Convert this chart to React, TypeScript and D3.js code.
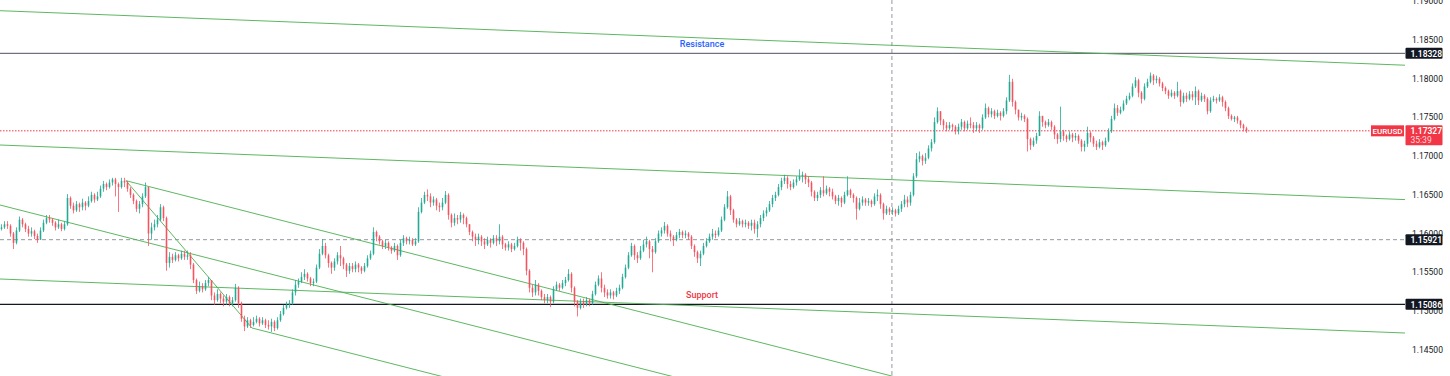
import React from "react";
import * as d3 from "d3";

// Prices stored as pips above BASE (price = BASE + v * PIP); open = previous close
const BASE = 1.15;
const PIP = 0.0001;
const firstOpen = 106;

const closes = [
  108,112,110,100,88,104,118,112,106,100,
  103,97,92,104,114,120,118,114,108,112,
  106,112,146,136,130,138,134,140,136,142,
  150,144,148,158,164,160,166,170,164,160,
  168,166,158,150,142,132,138,148,160,100,
  108,112,118,134,120,62,70,66,72,68,
  74,70,72,60,40,26,32,28,36,40,
  20,14,22,16,12,18,10,14,30,10,
  -10,-20,-12,-18,-14,-10,-16,-12,-18,-20,
  -14,-22,-12,-4,4,8,10,24,34,38,
  44,48,42,36,38,56,74,84,72,62,
  56,64,72,68,60,52,58,54,60,56,
  52,58,68,74,102,96,90,84,88,82,
  78,84,72,88,94,90,92,86,90,128,
  140,150,148,140,144,136,134,140,150,124,
  114,120,118,124,120,112,102,96,92,96,
  90,86,92,88,94,90,96,86,82,86,
  80,84,92,88,80,52,30,24,34,26,
  18,14,18,12,28,34,30,36,40,48,
  30,12,4,12,8,14,10,22,34,42,
  30,24,20,24,20,26,30,44,56,72,
  84,72,68,78,86,90,80,76,90,100,
  104,110,100,96,92,98,102,98,100,96,
  84,76,68,74,84,90,96,100,98,104,
  118,134,148,130,118,112,116,112,114,110,
  114,106,112,120,126,130,138,146,150,160,
  168,172,164,160,166,170,174,176,170,166,
  154,146,150,156,152,158,154,148,142,146,
  140,150,156,150,146,132,140,144,140,142,
  138,148,150,138,126,132,128,130,126,132,
  138,144,140,150,174,196,200,194,198,210,
  218,244,258,246,240,236,240,238,232,238,
  244,236,242,240,236,240,236,250,262,254,
  258,252,256,252,258,272,296,270,260,250,
  252,248,222,214,220,226,252,244,240,244,
  238,228,222,232,226,222,228,224,226,220,
  212,216,230,224,216,212,218,214,220,232,
  248,262,256,260,268,274,278,290,298,282,
  274,290,296,304,298,300,294,288,284,278,
  282,278,284,270,278,274,280,276,284,272,
  278,274,258,272,274,272,276,270,262,252,
  248,250,246,240,236,233,
];

const highs = [
  112,116,116,112,102,108,122,120,114,110,
  108,105,100,108,118,124,124,120,116,118,
  114,116,151,148,140,142,140,145,142,148,
  154,152,154,162,168,166,170,172,172,166,
  172,172,168,160,152,144,142,152,166,160,
  114,118,124,138,136,122,76,74,76,74,
  78,78,78,76,62,42,38,36,40,44,
  40,24,28,24,20,22,20,18,35,32,
  12,-6,-8,-10,-8,-6,-8,-8,-10,-12,
  -10,-12,-8,0,8,12,14,28,40,42,
  50,54,50,44,42,60,80,93,88,74,
  64,68,76,84,70,62,62,62,64,62,
  58,62,72,78,108,104,98,92,92,90,
  84,88,86,92,98,96,96,94,94,134,
  146,154,157,152,148,146,140,146,155,152,
  126,126,124,128,126,122,112,104,100,100,
  98,94,96,94,98,98,112,98,88,90,
  88,88,96,94,90,82,54,34,40,36,
  28,22,22,20,32,38,36,40,44,54,
  50,32,14,16,16,18,16,26,38,46,
  50,34,28,28,26,30,34,48,60,76,
  88,86,76,84,92,96,92,84,94,104,
  108,115,112,104,98,102,106,104,104,102,
  98,86,78,78,88,94,100,106,104,108,
  122,138,155,150,132,120,120,118,118,116,
  118,118,116,124,130,134,142,150,154,164,
  172,176,174,168,170,174,183,180,178,174,
  168,156,154,160,174,162,160,158,150,150,
  148,154,174,158,152,148,146,148,146,146,
  144,152,157,152,140,136,134,134,132,136,
  142,150,148,154,178,204,206,202,204,214,
  222,250,263,258,248,244,244,242,240,242,
  248,246,246,250,244,244,242,254,268,264,
  262,260,260,258,262,276,305,300,272,258,
  256,254,250,224,224,230,258,250,246,248,
  246,240,230,264,234,228,232,230,230,228,
  222,220,238,232,226,220,222,220,224,236,
  252,268,266,264,272,278,282,294,302,300,
  284,294,300,308,306,304,302,296,290,286,
  286,284,296,286,282,282,284,284,290,286,
  282,280,276,276,278,276,280,278,272,264,
  254,252,252,246,242,238,
];

const lows = [
  104,106,106,96,80,86,102,108,102,96,
  96,93,88,92,102,112,114,110,104,106,
  103,104,110,132,126,128,128,130,130,134,
  140,140,142,146,154,156,158,162,148,128,
  158,160,154,146,138,128,126,134,146,84,
  92,104,108,116,116,52,56,62,64,64,
  66,66,66,54,36,22,24,24,26,32,
  14,8,12,10,6,8,6,6,12,4,
  -14,-26,-22,-22,-20,-16,-20,-18,-22,-24,
  -27,-26,-24,-14,-6,2,4,8,20,30,
  36,40,38,32,32,36,54,72,68,56,
  48,52,60,58,54,44,48,50,50,50,
  48,50,56,66,72,90,86,80,80,78,
  74,76,66,70,84,86,86,84,84,88,
  126,138,142,134,136,130,128,130,138,118,
  108,110,112,114,112,108,98,90,84,86,
  84,80,84,82,86,84,86,80,78,78,
  76,78,82,78,72,46,24,18,20,20,
  14,10,10,5,10,26,26,28,32,38,
  24,6,-7,2,4,6,6,8,20,32,
  24,18,16,16,15,18,22,28,42,54,
  70,66,62,66,76,82,68,50,74,88,
  96,100,96,90,84,90,94,94,94,92,
  80,70,62,58,72,82,88,92,94,96,
  102,116,132,124,114,108,110,108,108,106,
  104,100,95,108,116,122,128,134,142,148,
  156,164,158,156,158,162,168,166,164,160,
  148,142,142,146,148,150,148,144,138,136,
  134,138,148,146,140,118,130,136,136,136,
  134,136,142,132,118,124,124,124,122,124,
  128,134,134,136,148,172,192,188,190,196,
  206,216,242,240,234,232,234,232,228,228,
  234,232,234,236,230,232,230,234,248,250,
  250,248,250,246,250,254,270,264,254,246,
  246,244,206,208,212,216,226,238,236,238,
  234,222,216,218,220,218,220,218,220,216,
  206,206,212,218,212,208,210,208,212,218,
  230,246,252,254,258,266,272,276,288,276,
  268,272,288,294,292,294,290,284,280,274,
  276,274,276,264,268,270,272,272,266,266,
  270,270,254,256,270,268,270,264,258,248,
  246,244,242,236,232,230,
];

const priceTicks = [1.145, 1.15, 1.155, 1.16, 1.165, 1.17, 1.175, 1.18, 1.185, 1.19];
const resistance = 1.18328;
const support = 1.15086;
const crosshairPrice = 1.15921;
const crosshairBar = 296.8;
const lastPrice = 1.17327;
const symbol = "EURUSD";
const countdown = "35:39";
const resistanceLabel = "Resistance";
const supportLabel = "Support";
const labelBar = 233.5;

// [bar1, price1, bar2, price2]
const trendLines: number[][] = [
  [-0.5, 1.188786, 467.83, 1.181746],
  [-0.5, 1.171439, 467.83, 1.164387],
  [-0.5, 1.154131, 467.83, 1.147155],
  [-0.5, 1.163689, 226.17, 1.141292],
  [41.5, 1.166828, 299.5, 1.14133],
  [41.5, 1.166828, 83.5, 1.147802],
  [83.5, 1.147802, 149.5, 1.141279],
];

const W = 1450;
const H = 376;
const PLOT_R = 1405;
const UP = "#22ab94";
const DOWN = "#f7525f";
const FONT = "Roboto, 'Liberation Sans', sans-serif";

export default function App() {
  const x = d3.scaleLinear().domain([-0.5, 467.83]).range([0, PLOT_R]);
  const y = d3.scaleLinear().domain([1.145, 1.19]).range([349.7, 1.3]);
  const n = Math.min(closes.length, highs.length, lows.length);

  const candles = d3.range(n).map((i) => {
    const o = BASE + (i === 0 ? firstOpen : closes[i - 1]) * PIP;
    const c = BASE + closes[i] * PIP;
    const h = Math.max(BASE + highs[i] * PIP, o, c);
    const l = Math.min(BASE + lows[i] * PIP, o, c);
    return { i, o, c, h, l };
  });

  const priceBox = (p: number, text: string, color: string) => (
    <g key={text}>
      <rect x={1405.5} y={y(p) - 5.5} width={37} height={11} fill={color} rx={1} />
      <text x={1410.5} y={y(p) + 0.5} fill="#fff" fontSize={8.5} fontWeight={600} dominantBaseline="central" fontFamily={FONT}>
        {text}
      </text>
    </g>
  );

  return (
    <div style={{ position: "absolute", left: 0, top: 0 }}>
      <svg width={W} height={H} style={{ display: "block", background: "#fff" }}>
        <defs>
          <clipPath id="plot">
            <rect x={0} y={0} width={PLOT_R} height={H} />
          </clipPath>
        </defs>

        {/* axis tick labels */}
        {priceTicks.map((p) => (
          <text key={p} x={1412} y={y(p)} fontSize={8.5} fill="#131722" dominantBaseline="central" fontFamily={FONT}>
            {p.toFixed(5)}
          </text>
        ))}

        <g clipPath="url(#plot)">
          {/* crosshair */}
          <line x1={x(crosshairBar)} x2={x(crosshairBar)} y1={0} y2={H} stroke="#9598a1" strokeDasharray="4 3" strokeWidth={1} />
          <line x1={0} x2={PLOT_R} y1={y(crosshairPrice)} y2={y(crosshairPrice)} stroke="#9598a1" strokeDasharray="4 3" strokeWidth={1} />

          {/* resistance / support */}
          <line x1={0} x2={PLOT_R} y1={y(resistance)} y2={y(resistance)} stroke="#50535e" strokeWidth={1} />
          <line x1={0} x2={PLOT_R} y1={y(support)} y2={y(support)} stroke="#131722" strokeWidth={1.3} />

          {/* trend lines */}
          {trendLines.map((t, k) => (
            <line key={k} x1={x(t[0])} y1={y(t[1])} x2={x(t[2])} y2={y(t[3])} stroke="#4caf50" strokeWidth={0.9} />
          ))}

          {/* last price line */}
          <line x1={0} x2={1371} y1={y(lastPrice)} y2={y(lastPrice)} stroke="#f23645" strokeDasharray="1.5 1.5" strokeWidth={1} />

          {/* candles */}
          {candles.map((d) => {
            const col = d.c >= d.o ? UP : DOWN;
            const cx = x(d.i);
            const top = y(Math.max(d.o, d.c));
            const bot = y(Math.min(d.o, d.c));
            return (
              <g key={d.i}>
                <line x1={cx} x2={cx} y1={y(d.h)} y2={y(d.l)} stroke={col} strokeWidth={0.8} />
                <rect x={cx - 0.8} y={top} width={1.6} height={Math.max(bot - top, 0.8)} fill={col} />
              </g>
            );
          })}

          {/* labels */}
          <text x={x(labelBar)} y={y(resistance) - 6} textAnchor="middle" fill="#2962ff" fontSize={9} fontWeight={500} fontFamily={FONT}>
            {resistanceLabel}
          </text>
          <text x={x(labelBar)} y={y(support) - 6} textAnchor="middle" fill="#f23645" fontSize={9} fontWeight={500} fontFamily={FONT}>
            {supportLabel}
          </text>
        </g>

        {/* price boxes */}
        {priceBox(resistance, resistance.toFixed(5), "#131722")}
        {priceBox(crosshairPrice, crosshairPrice.toFixed(5), "#131722")}
        {priceBox(support, support.toFixed(5), "#131722")}

        {/* symbol + last price */}
        <rect x={1371} y={y(lastPrice) - 5.5} width={33} height={11} fill="#f23645" />
        <text x={1387.5} y={y(lastPrice) + 0.5} textAnchor="middle" fill="#fff" fontSize={8} fontWeight={500} dominantBaseline="central" fontFamily={FONT}>
          {symbol}
        </text>
        <rect x={1405.5} y={y(lastPrice) - 5.5} width={37} height={20} fill="#f23645" rx={1} />
        <text x={1410.5} y={y(lastPrice) + 0.5} fill="#fff" fontSize={8.5} fontWeight={600} dominantBaseline="central" fontFamily={FONT}>
          {lastPrice.toFixed(5)}
        </text>
        <text x={1410.5} y={y(lastPrice) + 9.5} fill="#ffd6da" fontSize={8.5} dominantBaseline="central" fontFamily={FONT}>
          {countdown}
        </text>
      </svg>
    </div>
  );
}
